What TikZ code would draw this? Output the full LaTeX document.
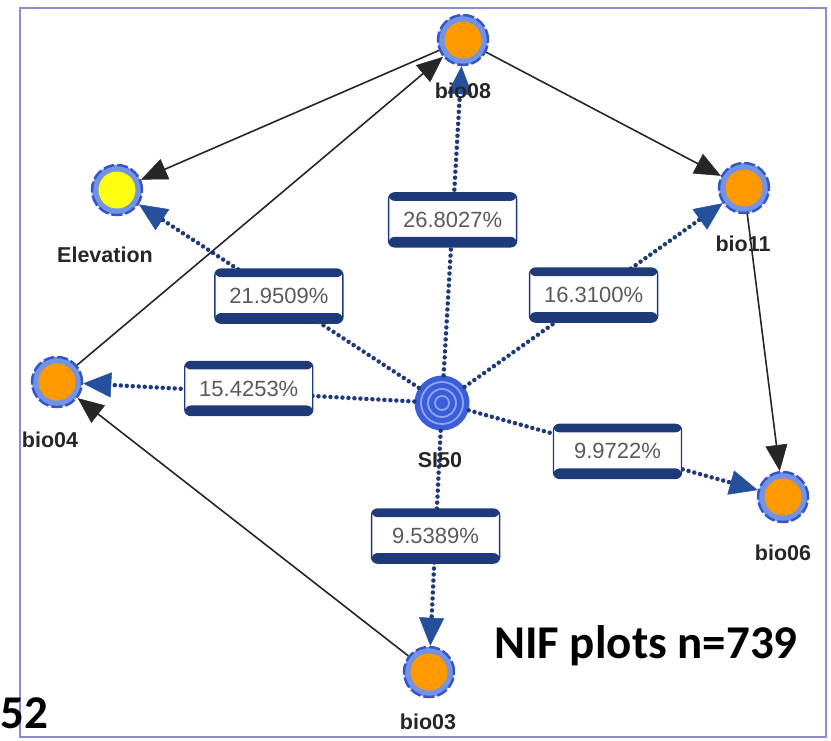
\documentclass[tikz,border=0pt]{standalone}
\usepackage{fontspec}
\setmainfont{Liberation Sans}
\newfontfamily\carlfont{Carlito}
\usetikzlibrary{arrows.meta}
\definecolor{ringblue}{HTML}{7393E6}
\definecolor{ringdash}{HTML}{3556C4}
\definecolor{nodeorange}{HTML}{FF9900}
\definecolor{elevyellow}{HTML}{FFFF10}
\definecolor{navy}{HTML}{1F3A78}
\definecolor{tipblue}{HTML}{24509C}
\definecolor{framec}{HTML}{8C8CCC}
\definecolor{pctgray}{HTML}{5A5A5A}
\definecolor{siblue}{HTML}{3B5ED8}
\definecolor{silight}{HTML}{8DA6F4}
\begin{document}
\begin{tikzpicture}[x=1pt,y=-1pt,
 varnode/.style={circle, minimum size=50pt, inner sep=0pt, fill=ringblue, draw=ringdash,
   line width=2.5pt, dash pattern=on 11pt off 3pt,
   path picture={\fill[#1] (path picture bounding box.center) circle (18.5pt);}},
 nlabel/.style={font=\bfseries\fontsize{21.5}{25}\selectfont, text=black!85},
 pct/.style={rectangle, rounded corners=6pt, minimum width=128pt, minimum height=54pt,
   inner sep=0pt, fill=white, draw=navy, solid, line width=1.4pt, text=pctgray,
   font=\fontsize{22}{26}\selectfont,
   path picture={\fill[navy] (path picture bounding box.north west) rectangle ([yshift=-8pt]path picture bounding box.north east);
     \fill[navy] (path picture bounding box.south west) rectangle ([yshift=10pt]path picture bounding box.south east);}},
 dotarrow/.style={navy, line width=4.5pt, dash pattern=on 0pt off 6pt, line cap=round,
   -{Triangle[length=28pt,width=25pt,line width=0.5pt,fill=tipblue,color=tipblue]}},
 blkarrow/.style={black!85, line width=1.6pt, -{Triangle[length=26pt,width=22pt,line width=0.5pt]}},
 bigtext/.style={font=\carlfont\bfseries\fontsize{47}{50}\selectfont, text=black, inner sep=0pt}
]
\useasboundingbox (0,0) rectangle (831,740);
\draw[framec, line width=2pt] (20,8) rectangle (826,737);

\node[varnode=nodeorange] (b08) at (463,40) {};
\node[varnode=elevyellow] (elev) at (117,190) {};
\node[varnode=nodeorange] (b11) at (744,188) {};
\node[varnode=nodeorange] (b04) at (57,382) {};
\node[varnode=nodeorange] (b06) at (783,497) {};
\node[varnode=nodeorange] (b03) at (429,672) {};
\node[circle, minimum size=55pt, inner sep=0pt, fill=siblue,
  path picture={\foreach \r in {21,14,7} \draw[silight, line width=1.8pt] (path picture bounding box.center) circle (\r pt);}] (si) at (442,403) {};

\draw[dotarrow] (si) -- node[pct, pos=0.503] {26.8027\%} (b08);
\draw[dotarrow] (si) -- node[pct, pos=0.5] {21.9509\%} (elev);
\draw[dotarrow] (si) -- node[pct, pos=0.5] {16.3100\%} (b11);
\draw[dotarrow] (si) -- node[pct, pos=0.5, yshift=4pt] {15.4253\%} (b04);
\draw[dotarrow] (si) -- node[pct, pos=0.515] {9.9722\%} (b06);
\draw[dotarrow] (si) -- node[pct, pos=0.49] {9.5389\%} (b03);

\draw[blkarrow] (b08) -- (elev);
\draw[blkarrow] (b04) -- (b08);
\draw[blkarrow] (b08) -- (b11);
\draw[blkarrow] (b11) -- (b06);
\draw[blkarrow] (b03) -- (b04);

\node[nlabel] (lb08) at (463,91) {bio08};
\node[nlabel] (lelev) at (105,255) {Elevation};
\node[nlabel] (lb11) at (743,244) {bio11};
\node[nlabel] (lb04) at (50,440) {bio04};
\node[nlabel] (lsi) at (440,460) {SI50};
\node[nlabel] (lb06) at (783,553) {bio06};
\node[nlabel] (lb03) at (428,722) {bio03};

\node[bigtext, anchor=base west] (nif) at (494,658) {NIF plots n=739};
\node[bigtext, anchor=base west] (n52) at (0,728) {52};
\end{tikzpicture}
\end{document}
